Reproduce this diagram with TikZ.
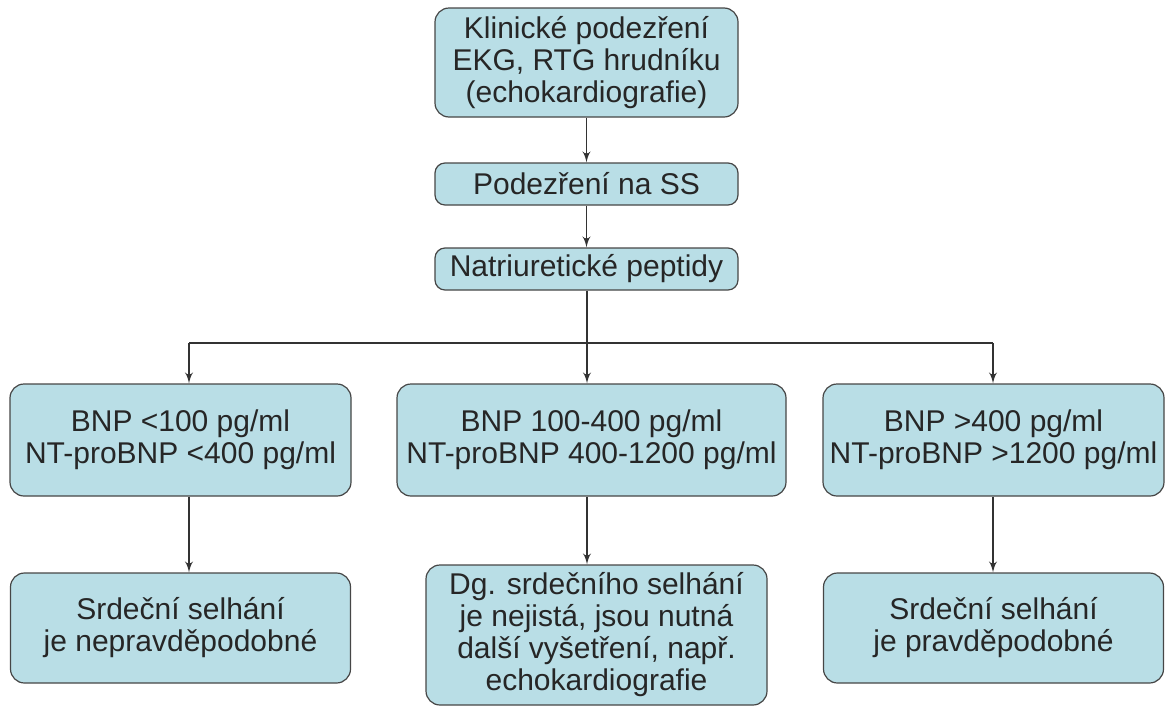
\documentclass[tikz,border=0pt]{standalone}
\usepackage{fontspec}
\setmainfont{Liberation Sans}
\usetikzlibrary{shapes,arrows}
\definecolor{paleteal}{RGB}{185,222,230}
\definecolor{edgegrey}{RGB}{70,70,70}
\tikzstyle{block} = [rectangle, draw=edgegrey, line width=0.6pt, fill=paleteal,
    align=center, rounded corners=7pt, inner sep=0pt, text=black!85,
    font=\fontsize{15}{16}\selectfont]
\tikzstyle{line} = [draw, line width=0.9pt, draw=black!80, -latex']

\begin{document}
\begin{tikzpicture}[x=0.5pt, y=-0.5pt, auto]
    \useasboundingbox (0,0) rectangle (1167,707);
    % Place nodes
    \node [block, minimum width=151.5pt, minimum height=54.5pt] (clin) at (586.5,62.5)
        {Klinické podezření\\EKG, RTG hrudníku\\(echokardiografie)};
    \node [block, minimum width=151.5pt, minimum height=21pt, rounded corners=5pt,
        below of=clin, node distance=60.75pt] (suspect) {Podezření na SS};
    \node [block, minimum width=151.5pt, minimum height=21pt, rounded corners=5pt,
        below of=suspect, node distance=42.5pt] (peptid) {Natriuretické peptidy};
    \node [block, minimum width=194.5pt, minimum height=56pt] (bnpmid) at (591.5,440)
        {BNP 100-400 pg/ml\\NT-proBNP 400-1200 pg/ml};
    \node [block, minimum width=170.5pt, minimum height=56pt,
        left of=bnpmid, node distance=205.5pt] (bnplow)
        {BNP <100 pg/ml\\NT-proBNP <400 pg/ml};
    \node [block, minimum width=170.5pt, minimum height=56pt,
        right of=bnpmid, node distance=201pt] (bnphigh)
        {BNP >400 pg/ml\\NT-proBNP >1200 pg/ml};
    \node [block, minimum width=170pt, minimum height=55pt,
        below of=bnplow, node distance=94pt] (unlikely)
        {Srdeční selhání\\je nepravděpodobné};
    \node [block, minimum width=170.5pt, minimum height=70pt] (unsure) at (596.5,635)
        {Dg. srdečního selhání\\je nejistá, jsou nutná\\další vyšetření, např.\\echokardiografie};
    \node [block, minimum width=170pt, minimum height=55pt,
        below of=bnphigh, node distance=94pt] (likely)
        {Srdeční selhání\\je pravděpodobné};
    % Branch points
    \coordinate (split) at (587,343);
    \coordinate (lowtap) at (189,343);
    \coordinate (hightap) at (993,343);
    % Draw edges
    \path [line] (clin) -- (suspect);
    \path [line] (suspect) -- (peptid);
    \path [draw, line width=0.9pt, draw=black!80] (peptid.south -| split) -- (split);
    \path [draw, line width=0.9pt, draw=black!80] (lowtap) -- (hightap);
    \path [line] (lowtap) -- (lowtap |- bnplow.north);
    \path [line] (split) -- (split |- bnpmid.north);
    \path [line] (hightap) -- (hightap |- bnphigh.north);
    \path [line] (lowtap |- bnplow.south) -- (lowtap |- unlikely.north);
    \path [line] (split |- bnpmid.south) -- (split |- unsure.north);
    \path [line] (hightap |- bnphigh.south) -- (hightap |- likely.north);
\end{tikzpicture}
\end{document}
